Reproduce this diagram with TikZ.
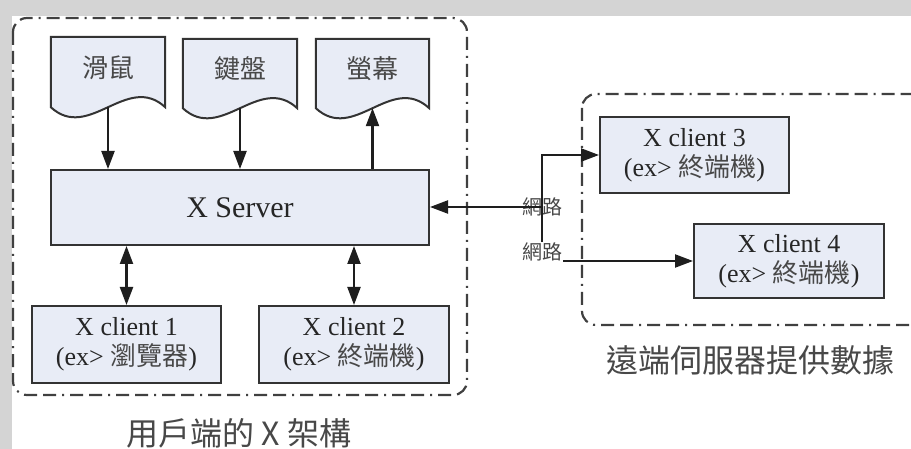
\documentclass[tikz,border=0pt]{standalone}
\usepackage{fontspec}
\setmainfont{Liberation Serif}
\newfontfamily\cjk{Noto Sans CJK TC}
\usetikzlibrary{arrows.meta}
\definecolor{boxfill}{HTML}{E8ECF6}
\definecolor{boxline}{HTML}{333333}
\definecolor{dashc}{HTML}{404040}
\definecolor{bggray}{HTML}{D4D4D4}
\definecolor{txt}{HTML}{262626}
\definecolor{cjktxt}{HTML}{484848}
\definecolor{arrc}{HTML}{1E1E1E}
\tikzset{
  nodebox/.style={draw=boxline, fill=boxfill, line width=2pt, inner sep=0pt, align=center, text=txt, font=\fontsize{26}{30}\selectfont},
  docbox/.style={inner sep=0pt, minimum width=114pt, minimum height=70pt},
  docshape/.style={draw=boxline, fill=boxfill, line width=2pt, line join=miter},
  doctext/.style={font=\cjk\fontsize{26}{30}\selectfont, text=cjktxt, inner sep=0pt},
  arr/.style={draw=arrc, line width=2.2pt, -{Triangle[length=18pt,width=13pt]}},
  darr/.style={draw=arrc, line width=2.2pt, {Triangle[length=18pt,width=13pt]}-{Triangle[length=18pt,width=13pt]}},
  groupbox/.style={draw=dashc, line width=2.2pt, rounded corners=14pt, dash pattern=on 13pt off 6pt on 13pt off 6pt on 2pt off 6pt},
  netlabel/.style={font=\cjk\fontsize{20}{22}\selectfont, text=cjktxt, inner sep=1pt},
  caption/.style={font=\cjk\fontsize{32}{36}\selectfont, text=cjktxt, inner sep=0pt}
}
\begin{document}
\begin{tikzpicture}[x=1pt,y=-1pt]
\useasboundingbox (0,0) rectangle (911,449);
\fill[white] (0,0) rectangle (911,449);
\fill[bggray] (0,0) rectangle (911,16);
\fill[bggray] (0,0) rectangle (12,449);
\clip (0,0) rectangle (911,449);

% group boxes
\draw[groupbox] (13,18) rectangle (467,395);
\draw[groupbox] (582,94) rectangle (924,325);

% document shapes
\node[docbox] (mouse) at (108,72) {};
\draw[docshape] (mouse.south west) -- (mouse.north west) -- (mouse.north east) -- (mouse.south east)
  .. controls +(-38,-35) and +(38,35) .. (mouse.south west) -- cycle;
\node[doctext] at ([yshift=4pt]mouse.center) {滑鼠};

\node[docbox, minimum height=69pt] (kbd) at (240,73.5) {};
\draw[docshape] (kbd.south west) -- (kbd.north west) -- (kbd.north east) -- (kbd.south east)
  .. controls +(-38,-35) and +(38,35) .. (kbd.south west) -- cycle;
\node[doctext] at ([yshift=5pt]kbd.center) {鍵盤};

\node[docbox, minimum width=113pt, minimum height=69pt] (scr) at (372.5,73.5) {};
\draw[docshape] (scr.south west) -- (scr.north west) -- (scr.north east) -- (scr.south east)
  .. controls +(-38,-35) and +(38,35) .. (scr.south west) -- cycle;
\node[doctext] at ([yshift=5pt]scr.center) {螢幕};

% X server and clients
\node[nodebox, minimum width=378pt, minimum height=75pt, font=\fontsize{30}{34}\selectfont] (xs) at (240,207.5) {X Server};
\node[nodebox, minimum width=189pt, minimum height=77pt] (c1) at (126.5,344.5) {X client 1\\(ex> {\cjk\color{cjktxt}瀏覽器})};
\node[nodebox, minimum width=190pt, minimum height=77pt] (c2) at (354,344.5) {X client 2\\(ex> {\cjk\color{cjktxt}終端機})};
\node[nodebox, minimum width=189pt, minimum height=76pt] (c3) at (694.5,155) {X client 3\\(ex> {\cjk\color{cjktxt}終端機})};
\node[nodebox, minimum width=190pt, minimum height=74pt] (c4) at (789,261) {X client 4\\(ex> {\cjk\color{cjktxt}終端機})};

% arrows inside
\draw[arr] (mouse.south) -- (mouse.south |- xs.north);
\draw[arr] (kbd.south) -- (kbd.south |- xs.north);
\draw[arr] (scr.south |- xs.north) -- (scr.south);
\draw[darr] (c1.north |- xs.south) -- (c1.north);
\draw[darr] (c2.north |- xs.south) -- (c2.north);

% network
\node[netlabel] (n1) at (542,207) {網路};
\node[netlabel] (n2) at (542,252) {網路};
\draw[arr] (n2.north) |- (c3.west);
\draw[arr] (n1.center) -- (n1.center -| xs.east);
\draw[arr] (n2.east |- c4.west) -- (c4.west);

% captions
\node[caption] (cap1) at (239,433) {用戶端的 X 架構};
\node[caption] (cap2) at (750,360) {遠端伺服器提供數據};
\end{tikzpicture}
\end{document}
